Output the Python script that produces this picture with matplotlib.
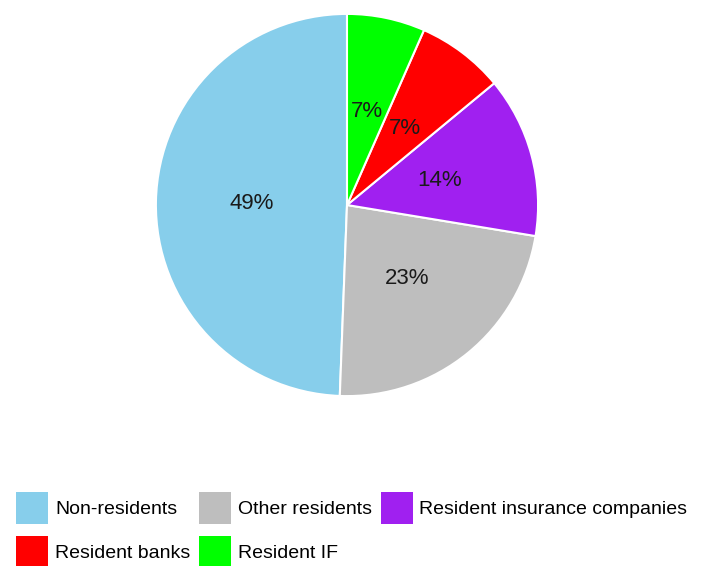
import matplotlib
matplotlib.use("Agg")
import matplotlib.pyplot as plt
from matplotlib.patches import Patch

# shares of holders, legend order (pie runs counter-clockwise from the top)
labels = ["Non-residents", "Other residents", "Resident insurance companies",
          "Resident banks", "Resident IF"]
shares = [49.4, 23.0, 13.6, 7.4, 6.6]
colors = ["#87CEEB", "#BEBEBE", "#A020F0", "#FF0000", "#00FF00"]

plt.rcParams['font.family'] = ['Liberation Sans', 'DejaVu Sans']

fig = plt.figure(figsize=(7.04, 5.66), dpi=100)

# pie axes: centre around (347, 205) px, radius about 193 px
ax = fig.add_axes([154 / 704, 1 - 398 / 566, 386 / 704, 386 / 566])
wedges, texts, autotexts = ax.pie(
    shares, colors=colors, startangle=90, counterclock=True,
    autopct='%.0f%%', pctdistance=0.5, radius=1,
    wedgeprops=dict(edgecolor='white', linewidth=1.5),
    textprops=dict(fontsize=16, color='#1a1a1a'))
ax.set_xlim(-1.01, 1.01)
ax.set_ylim(-1.01, 1.01)
ax.set_aspect('equal')

# legend fills column by column, so reorder to read row by row
order = [0, 3, 1, 4, 2]
handles = [Patch(facecolor=colors[i], edgecolor='none') for i in order]
fig.legend(handles, [labels[i] for i in order], loc='upper left',
           bbox_to_anchor=(16 / 704, 1 - 492 / 566), ncol=3,
           frameon=False, fontsize=14, borderpad=0, borderaxespad=0,
           handlelength=1.65, handleheight=2.15, handletextpad=0.35,
           labelspacing=0.6, columnspacing=0.45)

fig.savefig("out.png", dpi=100)
